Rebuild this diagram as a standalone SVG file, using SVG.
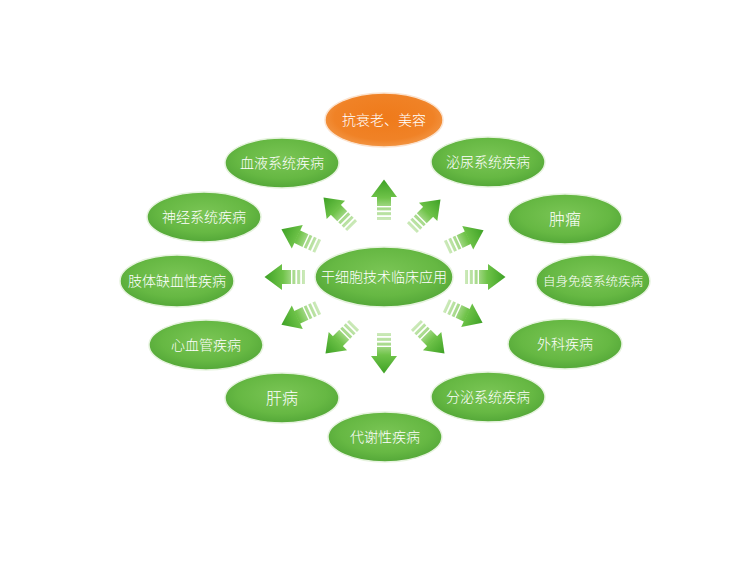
<svg xmlns="http://www.w3.org/2000/svg" xmlns:xlink="http://www.w3.org/1999/xlink" width="750" height="562" viewBox="0 0 750 562">
<style>
.lbl{font-family:"Noto Sans CJK SC","Noto Sans",sans-serif;font-weight:300;fill:#ffffff;font-size:14px;text-anchor:middle;}
.g{fill:url(#gGreen);stroke:#e6f3de;stroke-width:1.5;}
.o{fill:url(#gOrange);stroke:#fbe3cf;stroke-width:1.5;}
</style>
<defs>
<radialGradient id="gGreen" cx="50%" cy="42%" r="60%">
<stop offset="0" stop-color="#7ac555"/>
<stop offset="0.65" stop-color="#66b843"/>
<stop offset="1" stop-color="#52a637"/>
</radialGradient>
<radialGradient id="gOrange" cx="50%" cy="45%" r="60%">
<stop offset="0" stop-color="#ef7a1a"/>
<stop offset="0.7" stop-color="#f08226"/>
<stop offset="1" stop-color="#f39c4e"/>
</radialGradient>
<linearGradient id="gArrow" gradientUnits="userSpaceOnUse" x1="-20" y1="0" x2="20" y2="0">
<stop offset="0" stop-color="#cdeabb"/>
<stop offset="0.33" stop-color="#a3d886"/>
<stop offset="0.55" stop-color="#6fc349"/>
<stop offset="1" stop-color="#3fa226"/>
</linearGradient>
<g id="arw">
<rect x="-20" y="-7" width="3" height="14" fill="url(#gArrow)"/>
<rect x="-15.2" y="-7" width="3" height="14" fill="url(#gArrow)"/>
<rect x="-10.4" y="-7" width="3" height="14" fill="url(#gArrow)"/>
<rect x="-6" y="-7" width="9.5" height="14" fill="url(#gArrow)"/>
<polygon points="3,-13 20.5,0 3,13" fill="url(#gArrow)"/>
</g>
</defs>
<rect width="750" height="562" fill="#ffffff"/>
<g id="connectors">
<use xlink:href="#arw" transform="translate(384,200) rotate(-90)"/>
<use xlink:href="#arw" transform="translate(426,214) rotate(-45)"/>
<use xlink:href="#arw" transform="translate(465,239) rotate(-25)"/>
<use xlink:href="#arw" transform="translate(485,277)"/>
<use xlink:href="#arw" transform="translate(464,314) rotate(25)"/>
<use xlink:href="#arw" transform="translate(430,339) rotate(45)"/>
<use xlink:href="#arw" transform="translate(384,353) rotate(90)"/>
<use xlink:href="#arw" transform="translate(340,339) rotate(135)"/>
<use xlink:href="#arw" transform="translate(300,316) rotate(155)"/>
<use xlink:href="#arw" transform="translate(285,277) rotate(180)"/>
<use xlink:href="#arw" transform="translate(300,238) rotate(205)"/>
<use xlink:href="#arw" transform="translate(338,212) rotate(225)"/>
</g>
<g id="center">
<ellipse class="g" cx="384" cy="277" rx="69" ry="30"/>
<text class="lbl" x="384" y="282">干细胞技术临床应用</text>
</g>
<g id="n-antiaging">
<ellipse class="o" cx="384" cy="120" rx="59" ry="27"/>
<text class="lbl" x="384" y="125">抗衰老、美容</text>
</g>
<g id="n-urinary">
<ellipse class="g" cx="488" cy="162" rx="57" ry="25"/>
<text class="lbl" x="488" y="167">泌尿系统疾病</text>
</g>
<g id="n-tumor">
<ellipse class="g" cx="565" cy="219" rx="57" ry="25"/>
<text class="lbl" x="565" y="225" style="font-size:16px">肿瘤</text>
</g>
<g id="n-autoimmune">
<ellipse class="g" cx="593" cy="281" rx="57" ry="26"/>
<text class="lbl" x="593" y="286" style="font-size:12.5px">自身免疫系统疾病</text>
</g>
<g id="n-surgery">
<ellipse class="g" cx="565" cy="344" rx="57" ry="25"/>
<text class="lbl" x="565" y="349">外科疾病</text>
</g>
<g id="n-endocrine">
<ellipse class="g" cx="488" cy="397" rx="57" ry="25"/>
<text class="lbl" x="488" y="402">分泌系统疾病</text>
</g>
<g id="n-metabolic">
<ellipse class="g" cx="385" cy="437" rx="57" ry="25"/>
<text class="lbl" x="385" y="442">代谢性疾病</text>
</g>
<g id="n-liver">
<ellipse class="g" cx="282" cy="398" rx="57" ry="25"/>
<text class="lbl" x="282" y="404" style="font-size:16px">肝病</text>
</g>
<g id="n-cardio">
<ellipse class="g" cx="206" cy="345" rx="57" ry="25"/>
<text class="lbl" x="206" y="350">心血管疾病</text>
</g>
<g id="n-ischemia">
<ellipse class="g" cx="177" cy="281" rx="57" ry="26"/>
<text class="lbl" x="177" y="286">肢体缺血性疾病</text>
</g>
<g id="n-nerve">
<ellipse class="g" cx="204" cy="217" rx="57" ry="25"/>
<text class="lbl" x="204" y="222">神经系统疾病</text>
</g>
<g id="n-blood">
<ellipse class="g" cx="282" cy="163" rx="57" ry="25"/>
<text class="lbl" x="282" y="168">血液系统疾病</text>
</g>
</svg>
